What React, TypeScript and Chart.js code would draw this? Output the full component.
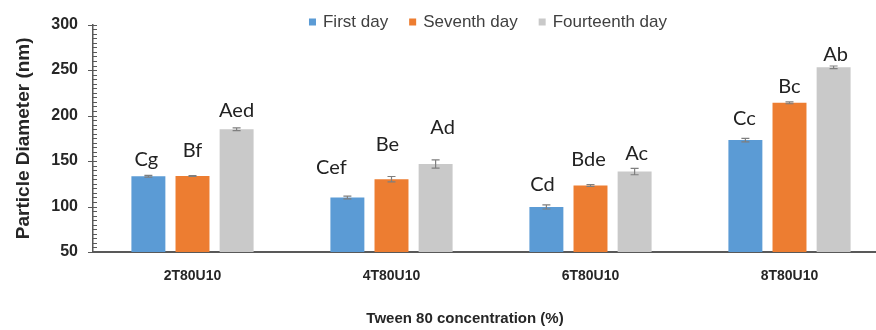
import React, { useEffect, useRef } from 'react';
import { Chart, registerables } from 'chart.js';

Chart.register(...registerables);

// Particle diameter (nm) of each formulation measured on three days
const categories = ['2T80U10', '4T80U10', '6T80U10', '8T80U10'];
const seriesNames = ['First day', 'Seventh day', 'Fourteenth day'];
const firstDay = [133.3, 110, 99.5, 173];
const seventhDay = [133.5, 130, 123, 214];
const fourteenthDay = [185, 146.8, 138.4, 253];
const firstDayErr = [1, 1.5, 2.2, 2];
const seventhDayErr = [0.5, 3, 1, 1];
const fourteenthDayErr = [1.5, 4.5, 3.5, 1.5];
// Significance letters shown above each bar
const firstDayLetters = ['Cg', 'Cef', 'Cd', 'Cc'];
const seventhDayLetters = ['Bf', 'Be', 'Bde', 'Bc'];
const fourteenthDayLetters = ['Aed', 'Ad', 'Ac', 'Ab'];
const xTitle = 'Tween 80 concentration (%)';
const yTitle = 'Particle Diameter (nm)';
const yMin = 50;
const yMax = 300;
const yMajorStep = 50;
const yMinorStep = 5;

const COLORS = ['#5b9bd5', '#ed7d31', '#c9c9c9'];
const AXIS_COLOR = '#595959';
const SANS = '"Liberation Sans", Arial, sans-serif';

// Hand placement of the letters: pixels above the error cap, horizontal nudge
const LETTER_LIFT = [
  [9, 22, 14, 13.5],
  [19, 26, 19, 9],
  [11, 26, 8.5, 5],
];
const LETTER_SHIFT = [
  [-2, -16, -4, -1],
  [0, -4, -2, 0],
  [0, 7, 2, 2],
];

const errors = [firstDayErr, seventhDayErr, fourteenthDayErr];
const letters = [firstDayLetters, seventhDayLetters, fourteenthDayLetters];

const minorTicksPlugin = {
  id: 'minorTicks',
  afterDraw(chart: any) {
    const y = chart.scales.y;
    const x0 = chart.chartArea.left;
    const ctx = chart.ctx;
    ctx.save();
    ctx.strokeStyle = AXIS_COLOR;
    ctx.lineWidth = 1;
    for (let v = yMin; v <= yMax; v += yMinorStep) {
      const py = Math.round(y.getPixelForValue(v)) + 0.5;
      const major = v % yMajorStep === 0;
      ctx.beginPath();
      ctx.moveTo(major ? x0 - 5 : x0, py);
      ctx.lineTo(x0 + 4, py);
      ctx.stroke();
    }
    ctx.restore();
  },
};

const errorBarsPlugin = {
  id: 'errorBars',
  afterDatasetsDraw(chart: any) {
    const ctx = chart.ctx;
    const y = chart.scales.y;
    ctx.save();
    ctx.strokeStyle = '#7f7f7f';
    ctx.lineWidth = 1.2;
    chart.data.datasets.forEach((ds: any, di: number) => {
      const meta = chart.getDatasetMeta(di);
      meta.data.forEach((bar: any, i: number) => {
        const v = ds.data[i];
        const e = errors[di][i];
        const top = y.getPixelForValue(v + e);
        const bot = y.getPixelForValue(v - e);
        const cx = bar.x;
        ctx.beginPath();
        ctx.moveTo(cx, top);
        ctx.lineTo(cx, bot);
        ctx.moveTo(cx - 4, top);
        ctx.lineTo(cx + 4, top);
        ctx.moveTo(cx - 4, bot);
        ctx.lineTo(cx + 4, bot);
        ctx.stroke();
      });
    });
    ctx.restore();
  },
};

const lettersPlugin = {
  id: 'letters',
  afterDatasetsDraw(chart: any) {
    const ctx = chart.ctx;
    const y = chart.scales.y;
    ctx.save();
    ctx.fillStyle = '#222222';
    ctx.font = '20px Lato, "Open Sans", sans-serif';
    ctx.textAlign = 'center';
    ctx.textBaseline = 'alphabetic';
    chart.data.datasets.forEach((ds: any, di: number) => {
      const meta = chart.getDatasetMeta(di);
      meta.data.forEach((bar: any, i: number) => {
        const top = y.getPixelForValue(ds.data[i] + errors[di][i]);
        ctx.fillText(letters[di][i], bar.x + LETTER_SHIFT[di][i], top - LETTER_LIFT[di][i]);
      });
    });
    ctx.restore();
  },
};

// Legend row across the top and the category-axis title underneath
const textPlugin = {
  id: 'topLegendAndTitle',
  afterDraw(chart: any) {
    const ctx = chart.ctx;
    const { left, right } = chart.chartArea;
    ctx.save();
    ctx.font = '17px ' + SANS;
    ctx.textBaseline = 'middle';
    ctx.textAlign = 'left';
    const box = 7;
    const boxGap = 7;
    const itemGap = 21;
    const items = chart.data.datasets.map((ds: any) => ({
      label: ds.label,
      color: ds.backgroundColor,
      w: box + boxGap + ctx.measureText(ds.label).width,
    }));
    const total = items.reduce((s: number, it: any) => s + it.w, 0) + itemGap * (items.length - 1);
    let x = (left + right) / 2 - total / 2 - 3;
    const cy = 22;
    items.forEach((it: any) => {
      ctx.fillStyle = it.color;
      ctx.fillRect(x, cy - box / 2, box, box);
      ctx.fillStyle = '#404040';
      ctx.fillText(it.label, x + box + boxGap, cy);
      x += it.w + itemGap;
    });

    ctx.font = 'bold 15px ' + SANS;
    ctx.fillStyle = '#262626';
    ctx.textAlign = 'center';
    ctx.fillText(xTitle, (left + right) / 2 - 26, 319);
    ctx.restore();
  },
};

export default function App() {
  const canvasRef = useRef<HTMLCanvasElement | null>(null);

  useEffect(() => {
    if (!canvasRef.current) return;
    const seriesValues = [firstDay, seventhDay, fourteenthDay];
    const chart = new Chart(canvasRef.current, {
      type: 'bar',
      data: {
        labels: categories,
        datasets: seriesNames.map((name, i) => ({
          label: name,
          data: seriesValues[i],
          backgroundColor: COLORS[i],
          borderWidth: 0,
          categoryPercentage: 0.665,
          barPercentage: 0.77,
        })),
      },
      options: {
        responsive: false,
        animation: false,
        layout: { padding: { left: 0, right: 3, top: 23, bottom: 0 } },
        plugins: {
          legend: { display: false },
          tooltip: { enabled: false },
        },
        scales: {
          x: {
            afterFit: (s: any) => {
              s.height = 78;
            },
            grid: { display: false, drawTicks: false },
            border: { display: true, color: AXIS_COLOR, width: 2 },
            ticks: {
              padding: 16,
              color: '#262626',
              font: { family: SANS, size: 14, weight: 'bold' },
            },
          },
          y: {
            min: yMin,
            max: yMax,
            afterFit: (s: any) => {
              s.width = 93;
            },
            grid: { display: false, drawTicks: false },
            border: { display: true, color: AXIS_COLOR, width: 1.5 },
            ticks: {
              stepSize: yMajorStep,
              padding: 15,
              color: '#262626',
              font: { family: SANS, size: 16, weight: 'bold' },
            },
            title: {
              display: true,
              text: yTitle,
              color: '#262626',
              font: { family: SANS, size: 19, weight: 'bold' },
              padding: { top: 12, bottom: 0 },
            },
          },
        },
      },
      plugins: [minorTicksPlugin, errorBarsPlugin, lettersPlugin, textPlugin],
    });
    return () => chart.destroy();
  }, []);

  return (
    <div
      style={{
        position: 'fixed',
        left: 0,
        top: 0,
        width: 876,
        height: 330,
        overflow: 'hidden',
        background: '#ffffff',
      }}
    >
      <canvas ref={canvasRef} width={892} height={330} style={{ display: 'block' }} />
    </div>
  );
}
